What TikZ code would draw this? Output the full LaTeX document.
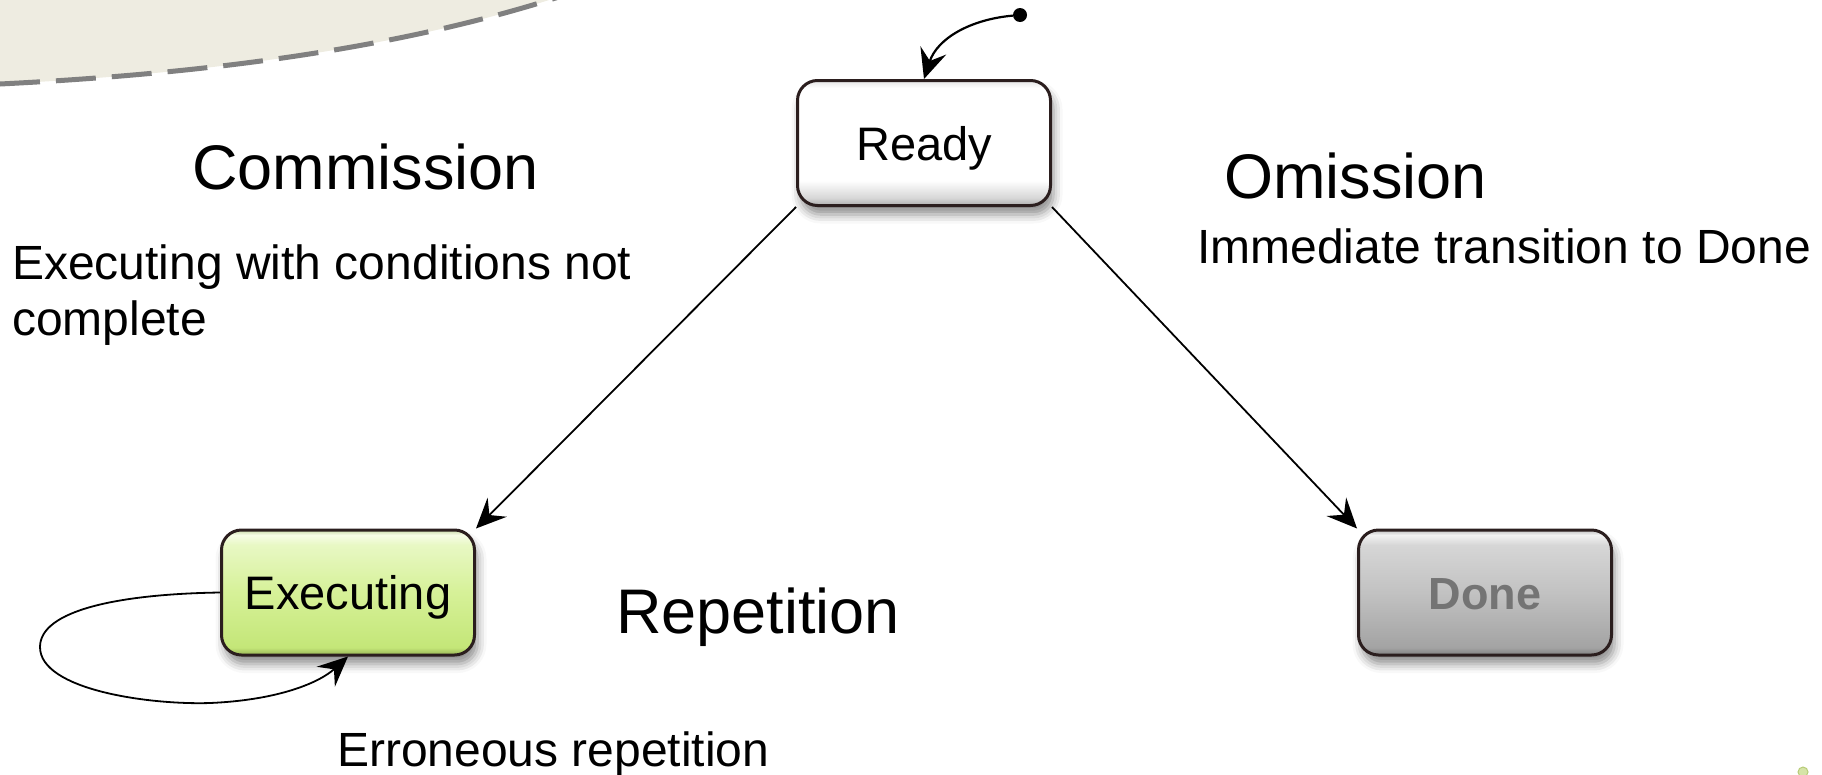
\documentclass[tikz,border=0pt]{standalone}
\usepackage{fontspec}
\setmainfont{Liberation Sans}
\usetikzlibrary{arrows.meta,shadows.blur}

\definecolor{paper}{HTML}{EEECE1}
\definecolor{dashgray}{HTML}{808080}
\definecolor{boxedge}{HTML}{2B1E1E}
\definecolor{donetext}{HTML}{747474}

% glossy fills for the state boxes (25bp = bottom edge, 75bp = top edge)
\pgfdeclareverticalshading{readyshade}{100bp}{%
  color(0bp)=(black!30); color(25bp)=(black!32); color(28bp)=(black!16);
  color(35bp)=(white); color(72bp)=(white); color(75bp)=(black!10); color(100bp)=(black!10)}
\pgfdeclareverticalshading{execshade}{100bp}{%
  color(0bp)=(black!30); color(25bp)=({rgb,255:red,150;green,180;blue,85});
  color(28bp)=({rgb,255:red,196;green,230;blue,120});
  color(50bp)=({rgb,255:red,214;green,241;blue,152});
  color(69bp)=({rgb,255:red,232;green,248;blue,196});
  color(73bp)=({rgb,255:red,246;green,252;blue,230});
  color(75bp)=({rgb,255:red,200;green,216;blue,168}); color(100bp)=(white)}
\pgfdeclareverticalshading{doneshade}{100bp}{%
  color(0bp)=(black!50); color(25bp)=(black!50); color(28bp)=(black!36);
  color(50bp)=(black!24); color(69bp)=(black!16); color(73bp)=(black!5);
  color(75bp)=(black!25); color(100bp)=(black!25)}

\tikzset{
  statebox/.style={draw=boxedge, line width=3pt, rounded corners=20pt,
    minimum width=253pt, minimum height=125pt, inner sep=0pt,
    text height=34pt, text depth=0pt,
    font=\fontsize{47}{56}\selectfont,
    blur shadow={shadow xshift=3pt, shadow yshift=-9pt,
      shadow blur radius=9pt, shadow opacity=45}},
  bigtitle/.style={anchor=base west, inner sep=0pt, font=\fontsize{63}{76}\selectfont},
  remark/.style={anchor=base west, inner sep=0pt, align=left,
    font=\fontsize{48}{58}\selectfont},
  conn/.style={draw=black, line width=1.8pt,
    -{Stealth[length=30pt, width=27pt, inset=11pt]}},
}

\begin{document}
\begin{tikzpicture}[x=1pt, y=1pt]
  \useasboundingbox (0,0) rectangle (1822,-774);

  % decorative corner band
  \fill[paper] (0,2) -- (0,-84) .. controls (240,-72) and (420,-42) .. (565,5) -- cycle;
  \draw[dashgray, line width=5pt, dash pattern=on 40pt off 16pt]
    (0,-84) .. controls (240,-72) and (420,-42) .. (565,5);

  % states
  \node[statebox, shading=readyshade] (ready) at (924,-143) {Ready};
  \node[statebox, shading=execshade] (exec) at (348,-592.5) {Executing};
  \node[statebox, shading=doneshade, text=donetext,
    font=\fontsize{45}{54}\selectfont\bfseries] (done) at (1485,-592.5) {Done};

  % initial pseudo-state
  \node[circle, fill=black, minimum size=14pt, inner sep=0pt] (init) at (1020,-15) {};
  \draw[conn, line width=2.2pt] (init) to[out=185, in=72] (ready.north);

  % transitions
  \draw[conn] (ready.south west) -- (exec.north east);
  \draw[conn] (ready.south east) -- (done.north west);
  \draw[conn] (exec.west) .. controls (120,-594) and (40,-610) .. (40,-647)
    .. controls (40,-690) and (150,-705) .. (210,-703)
    .. controls (280,-700) and (320,-682) .. (exec.south);

  % annotations
  \node[bigtitle] (tcom) at (192,-189) {Commission};
  \node[remark] (rcom1) at (12,-279) {Executing with conditions not};
  \node[remark] (rcom2) at (12,-335) {complete};
  \node[bigtitle] (tomi) at (1224,-198) {Omission};
  \node[remark] (romi) at (1197,-263) {Immediate transition to Done};
  \node[bigtitle] (trep) at (616,-633) {Repetition};
  \node[remark] (rrep) at (337,-766) {Erroneous repetition};

  % small mark in the lower right corner
  \node[circle, fill={rgb,255:red,214;green,228;blue,168}, draw={rgb,255:red,184;green,204;blue,120},
    line width=1pt, minimum size=10pt, inner sep=0pt] (mark) at (1803,-772) {};
\end{tikzpicture}
\end{document}
